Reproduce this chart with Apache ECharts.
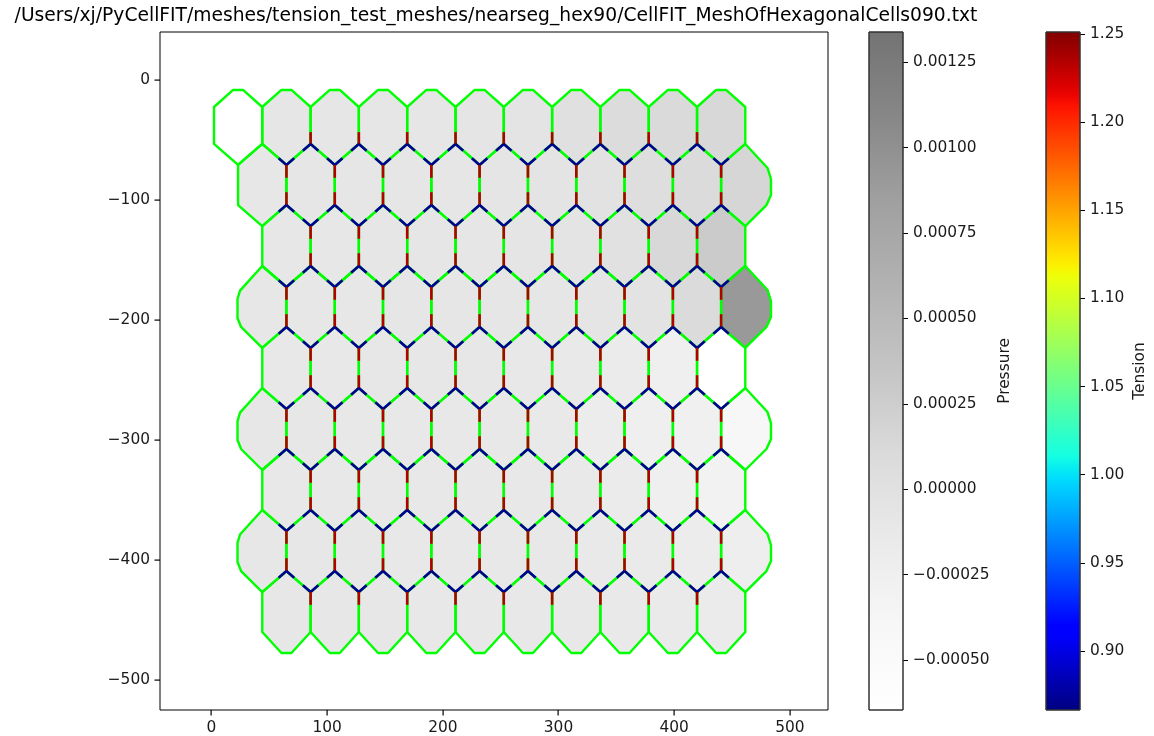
<!DOCTYPE html>
<html>
<head>
<meta charset="utf-8">
<script src="https://cdn.jsdelivr.net/npm/echarts@6/dist/echarts.min.js"></script>
<style>
html, body { margin: 0; padding: 0; background: #fff; }
#main { width: 1154px; height: 736px; }
</style>
</head>
<body>
<div id="main"></div>
<script>
// 网格节点坐标（数据单位）
var nodeX = [2.2, 23.0, 43.9, 64.8, 85.7, 106.6, 127.4, 148.3, 169.2, 190.1, 211.0, 231.8,
             252.7, 273.6, 294.5, 315.4, 336.2, 357.1, 378.0, 398.9, 419.8, 440.6, 461.5, 482.4];
var nodeY = [-8.3, -22.5, -53.3, -70.8, -104.2, -121.7, -155.0, -172.5, -205.8, -223.3,
             -256.7, -274.2, -307.5, -325.0, -358.3, -375.8, -409.2, -426.7, -460.0, -477.5];

// 每行第一个细胞中心所在的节点列
var rowFirstCol = [1, 2, 3, 2, 3, 2, 3, 2, 3];

// 细胞压力（按行，从左到右；null 为不在网格内的细胞）
var pressureRow0 = [null, -0.00009, -0.00009, -0.00008, -0.00008, -0.00007, -0.00005, 0.00001, 0.00008, 0.00011, 0.00013];
var pressureRow1 = [-0.0001, -0.00009, -0.00009, -0.00008, -0.00008, -0.00007, -0.00005, -0.00002, 0.00005, 0.00010, 0.00016];
var pressureRow2 = [-0.0001, -0.0001, -0.00009, -0.00009, -0.00008, -0.00007, -0.00005, 0.0, 0.00013, 0.00028];
var pressureRow3 = [-0.0001, -0.0001, -0.0001, -0.00009, -0.00009, -0.00009, -0.00008, -0.00006, -0.00003, 0.00010, 0.00091];
var pressureRow4 = [-0.00011, -0.00011, -0.0001, -0.0001, -0.0001, -0.00011, -0.00013, -0.00017, -0.00025, -0.00064];
var pressureRow5 = [-0.0001, -0.0001, -0.00011, -0.00011, -0.00011, -0.00012, -0.00014, -0.00018, -0.00025, -0.00027, -0.0004];
var pressureRow6 = [-0.00011, -0.00011, -0.00011, -0.00011, -0.00012, -0.00012, -0.00014, -0.00017, -0.00024, -0.0003];
var pressureRow7 = [-0.0001, -0.0001, -0.0001, -0.00011, -0.00011, -0.00011, -0.00012, -0.00013, -0.00015, -0.00018, -0.00022];
var pressureRow8 = [-0.0001, -0.0001, -0.0001, -0.00011, -0.00011, -0.00011, -0.00012, -0.00013, -0.00015, -0.00017];
var pressureRows = [pressureRow0, pressureRow1, pressureRow2, pressureRow3, pressureRow4,
                    pressureRow5, pressureRow6, pressureRow7, pressureRow8];

// 边端张力：竖直边 / 斜边
var edgeTypes = ['vertical', 'slanted'];
var edgeTension = [1.235, 0.872];

// 刻度
var xTicks = [0, 100, 200, 300, 400, 500];
var yTicks = [0, -100, -200, -300, -400, -500];
var xRange = [-44.5, 533];
var yRange = [-525, 40];
var pressureTicks = [-0.0005, -0.00025, 0, 0.00025, 0.0005, 0.00075, 0.001, 0.00125];
var tensionTicks = [0.90, 0.95, 1.00, 1.05, 1.10, 1.15, 1.20, 1.25];
var pressureRange = [-0.000646, 0.001338];
var tensionRange = [0.8665, 1.2511];

var titleText = '/Users/xj/PyCellFIT/meshes/tension_test_meshes/nearseg_hex90/CellFIT_MeshOfHexagonalCells090.txt';

// ---------- 网格构建 ----------
function P(v) { return [nodeX[v[0]], nodeY[v[1]]]; }
function key(v) { return v[0] + ',' + v[1]; }

var allCells = [];
pressureRows.forEach(function (row, r) {
    row.forEach(function (p, j) {
        var c = rowFirstCol[r] + 2 * j;
        var vs = [[c, 2 * r], [c + 1, 2 * r + 1], [c + 1, 2 * r + 2], [c, 2 * r + 3], [c - 1, 2 * r + 2], [c - 1, 2 * r + 1]];
        allCells.push({ r: r, c: c, p: p, vs: vs });
    });
});

function cellPolygon(cell) {
    var r = cell.r, c = cell.c, vs = cell.vs, pts = [];
    var x, yU, yL;
    if (r === 0) {
        pts.push([nodeX[c] - 4.3, nodeY[0]], [nodeX[c] + 4.3, nodeY[0]]);
    } else {
        pts.push(P(vs[0]));
    }
    if (c === 22) {
        x = nodeX[23]; yU = nodeY[2 * r + 1]; yL = nodeY[2 * r + 2];
        pts.push([x - 1.7, yU - 2.5], [x + 1.3, yU - 11.7], [x + 1.3, yL + 8.3], [x - 2.6, yL]);
    } else {
        pts.push(P(vs[1]), P(vs[2]));
    }
    if (r === 8) {
        pts.push([nodeX[c] + 4.3, nodeY[19]], [nodeX[c] - 4.3, nodeY[19]]);
    } else {
        pts.push(P(vs[3]));
    }
    if (c === 2 && r > 1) {
        x = nodeX[1]; yU = nodeY[2 * r + 1]; yL = nodeY[2 * r + 2];
        pts.push([x + 2.6, yL], [x - 0.5, yL + 7.5], [x - 0.5, yU - 10], [x + 1.7, yU - 3]);
    } else {
        pts.push(P(vs[4]), P(vs[5]));
    }
    return pts;
}
allCells.forEach(function (cell) { cell.poly = cellPolygon(cell); });

var meshCells = allCells.filter(function (cell) { return cell.p !== null; });

var vertexCount = {}, edgeCount = {}, edgeEnds = {};
meshCells.forEach(function (cell) {
    cell.vs.forEach(function (v, i) {
        vertexCount[key(v)] = (vertexCount[key(v)] || 0) + 1;
        var w = cell.vs[(i + 1) % 6];
        var ek = [key(v), key(w)].sort().join('|');
        edgeCount[ek] = (edgeCount[ek] || 0) + 1;
        edgeEnds[ek] = [v, w];
    });
});

var segmentData = [];
var segFrac = 0.32;
Object.keys(edgeCount).forEach(function (ek) {
    if (edgeCount[ek] < 2) return;
    var ends = edgeEnds[ek];
    var t = edgeTension[ends[0][0] === ends[1][0] ? edgeTypes.indexOf('vertical') : edgeTypes.indexOf('slanted')];
    [[ends[0], ends[1]], [ends[1], ends[0]]].forEach(function (pair) {
        if (vertexCount[key(pair[0])] !== 3) return;
        var a = P(pair[0]), b = P(pair[1]);
        segmentData.push([a[0], a[1], a[0] + segFrac * (b[0] - a[0]), a[1] + segFrac * (b[1] - a[1]), t]);
    });
});

// ---------- 颜色 ----------
function jet(x) {
    var r = x < 0.35 ? 0 : x < 0.66 ? (x - 0.35) / 0.31 : x < 0.89 ? 1 : 1 - (x - 0.89) / 0.11 * 0.5;
    var g = x < 0.125 ? 0 : x < 0.375 ? (x - 0.125) / 0.25 : x < 0.64 ? 1 : x < 0.91 ? 1 - (x - 0.64) / 0.27 : 0;
    var b = x < 0.11 ? 0.5 + x / 0.11 * 0.5 : x < 0.34 ? 1 : x < 0.65 ? 1 - (x - 0.34) / 0.31 : 0;
    return 'rgb(' + Math.round(r * 255) + ',' + Math.round(g * 255) + ',' + Math.round(b * 255) + ')';
}
var jetColors = [];
for (var k = 0; k <= 64; k++) jetColors.push(jet(k / 64));
var greyColors = ['#ffffff', '#f7f7f7', '#eaeaea', '#dbdbdb', '#c5c5c5', '#b2b2b2', '#a0a0a0', '#878787', '#737373'];

function gradientStops(colors) {
    return colors.map(function (col, i) { return { offset: i / (colors.length - 1), color: col }; });
}

var font = 'DejaVu Sans';
var textColor = '#1a1a1a';
var tickFont = 15.4;
var labelGap = 10;
function minusFmt(s) { return s.replace('-', '\u2212'); }

var chart = echarts.init(document.getElementById('main'));

var option = {
    backgroundColor: '#fff',
    animation: false,
    title: {
        text: titleText,
        left: 491,
        textAlign: 'center',
        top: 2,
        textStyle: { fontFamily: font, fontSize: 18.7, fontWeight: 'normal', color: '#000' }
    },
    grid: [
        { left: 160, top: 32, width: 668, height: 678, show: true, borderColor: '#000', borderWidth: 1, backgroundColor: 'transparent' },
        { left: 869, top: 32, width: 34, height: 678 },
        { left: 1046, top: 32, width: 34, height: 678 }
    ],
    xAxis: [
        {
            type: 'value', gridIndex: 0, min: xRange[0], max: xRange[1], position: 'bottom',
            axisLine: { show: false, onZero: false },
            splitLine: { show: false },
            axisTick: { show: false },
            axisLabel: { customValues: xTicks, margin: labelGap, fontFamily: font, fontSize: tickFont, color: textColor,
                formatter: function (v) { return minusFmt(String(v)); } }
        },
        { type: 'value', gridIndex: 1, min: 0, max: 1, show: false },
        { type: 'value', gridIndex: 2, min: 0, max: 1, show: false }
    ],
    yAxis: [
        {
            type: 'value', gridIndex: 0, min: yRange[0], max: yRange[1], position: 'left',
            axisLine: { show: false, onZero: false },
            splitLine: { show: false },
            axisTick: { show: false },
            axisLabel: { customValues: yTicks, margin: labelGap, fontFamily: font, fontSize: tickFont, color: textColor,
                formatter: function (v) { return minusFmt(String(v)); } }
        },
        {
            type: 'value', gridIndex: 1, position: 'right', min: pressureRange[0], max: pressureRange[1],
            axisLine: { show: false, onZero: false },
            splitLine: { show: false },
            axisTick: { customValues: pressureTicks, length: 5, lineStyle: { color: '#000', width: 1 } },
            axisLabel: { customValues: pressureTicks, margin: labelGap, fontFamily: font, fontSize: tickFont, color: textColor,
                formatter: function (v) { return minusFmt(v.toFixed(5)); } },
            name: 'Pressure', nameLocation: 'middle', nameRotate: 90, nameGap: 94,
            nameTextStyle: { fontFamily: font, fontSize: tickFont, color: textColor }
        },
        {
            type: 'value', gridIndex: 2, position: 'right', min: tensionRange[0], max: tensionRange[1],
            axisLine: { show: false, onZero: false },
            splitLine: { show: false },
            axisTick: { customValues: tensionTicks, length: 5, lineStyle: { color: '#000', width: 1 } },
            axisLabel: { customValues: tensionTicks, margin: labelGap, fontFamily: font, fontSize: tickFont, color: textColor,
                formatter: function (v) { return v.toFixed(2); } },
            name: 'Tension', nameLocation: 'middle', nameRotate: 90, nameGap: 52,
            nameTextStyle: { fontFamily: font, fontSize: tickFont, color: textColor }
        }
    ],
    visualMap: [
        { type: 'continuous', show: false, seriesIndex: 0, dimension: 2,
          min: pressureRange[0], max: pressureRange[1], inRange: { color: greyColors } },
        { type: 'continuous', show: false, seriesIndex: 2, dimension: 4,
          min: tensionRange[0], max: tensionRange[1], inRange: { color: jetColors } }
    ],
    series: [
        {
            // 细胞填充（压力）
            type: 'custom', xAxisIndex: 0, yAxisIndex: 0, z: 2,
            data: meshCells.map(function (cell) { return [nodeX[cell.c], nodeY[2 * cell.r + 1], cell.p]; }),
            encode: { x: 0, y: 1 },
            renderItem: function (params, api) {
                var cell = meshCells[params.dataIndex];
                return {
                    type: 'polygon',
                    shape: { points: cell.poly.map(function (p) { return api.coord(p); }) },
                    style: { fill: api.visual('color'), stroke: null }
                };
            }
        },
        {
            // 细胞边界（绿色）
            type: 'custom', xAxisIndex: 0, yAxisIndex: 0, z: 3,
            data: allCells.map(function (cell) { return [nodeX[cell.c], nodeY[2 * cell.r + 1]]; }),
            encode: { x: 0, y: 1 },
            renderItem: function (params, api) {
                var cell = allCells[params.dataIndex];
                return {
                    type: 'polygon',
                    shape: { points: cell.poly.map(function (p) { return api.coord(p); }) },
                    style: { fill: 'none', stroke: '#00ff00', lineWidth: 2.4, lineJoin: 'round' }
                };
            }
        },
        {
            // 边端张力
            type: 'custom', xAxisIndex: 0, yAxisIndex: 0, z: 4,
            data: segmentData,
            encode: { x: [0, 2], y: [1, 3] },
            renderItem: function (params, api) {
                var a = api.coord([api.value(0), api.value(1)]);
                var b = api.coord([api.value(2), api.value(3)]);
                return {
                    type: 'line',
                    shape: { x1: a[0], y1: a[1], x2: b[0], y2: b[1] },
                    style: { stroke: api.visual('color'), lineWidth: 2.6, lineCap: 'butt' }
                };
            }
        },
        {
            // 压力色条
            type: 'custom', xAxisIndex: 1, yAxisIndex: 1,
            data: [[0, pressureRange[0]]],
            renderItem: function (params, api) {
                var lo = api.coord([0, pressureRange[0]]);
                var hi = api.coord([1, pressureRange[1]]);
                return {
                    type: 'rect',
                    shape: { x: lo[0], y: hi[1], width: hi[0] - lo[0], height: lo[1] - hi[1] },
                    style: { fill: new echarts.graphic.LinearGradient(0, 1, 0, 0, gradientStops(greyColors)),
                             stroke: '#333', lineWidth: 1 }
                };
            }
        },
        {
            // 张力色条
            type: 'custom', xAxisIndex: 2, yAxisIndex: 2,
            data: [[0, tensionRange[0]]],
            renderItem: function (params, api) {
                var lo = api.coord([0, tensionRange[0]]);
                var hi = api.coord([1, tensionRange[1]]);
                return {
                    type: 'rect',
                    shape: { x: lo[0], y: hi[1], width: hi[0] - lo[0], height: lo[1] - hi[1] },
                    style: { fill: new echarts.graphic.LinearGradient(0, 1, 0, 0, gradientStops(jetColors)),
                             stroke: '#333', lineWidth: 1 }
                };
            }
        }
    ]
};

chart.setOption(option);

// 主图刻度线（位置由坐标轴换算）
var tickGraphics = [];
xTicks.forEach(function (v) {
    var p = chart.convertToPixel({ xAxisIndex: 0, yAxisIndex: 0 }, [v, yRange[0]]);
    tickGraphics.push({ type: 'rect', z: 100, silent: true,
        shape: { x: Math.round(p[0]) - 0.5, y: Math.round(p[1]), width: 1.2, height: 5.5 },
        style: { fill: '#000' } });
});
yTicks.forEach(function (v) {
    var p = chart.convertToPixel({ xAxisIndex: 0, yAxisIndex: 0 }, [xRange[0], v]);
    tickGraphics.push({ type: 'rect', z: 100, silent: true,
        shape: { x: Math.round(p[0]) - 5.5, y: Math.round(p[1]) - 0.5, width: 5.5, height: 1.2 },
        style: { fill: '#000' } });
});
chart.setOption({ graphic: { elements: tickGraphics } });
</script>
</body>
</html>
